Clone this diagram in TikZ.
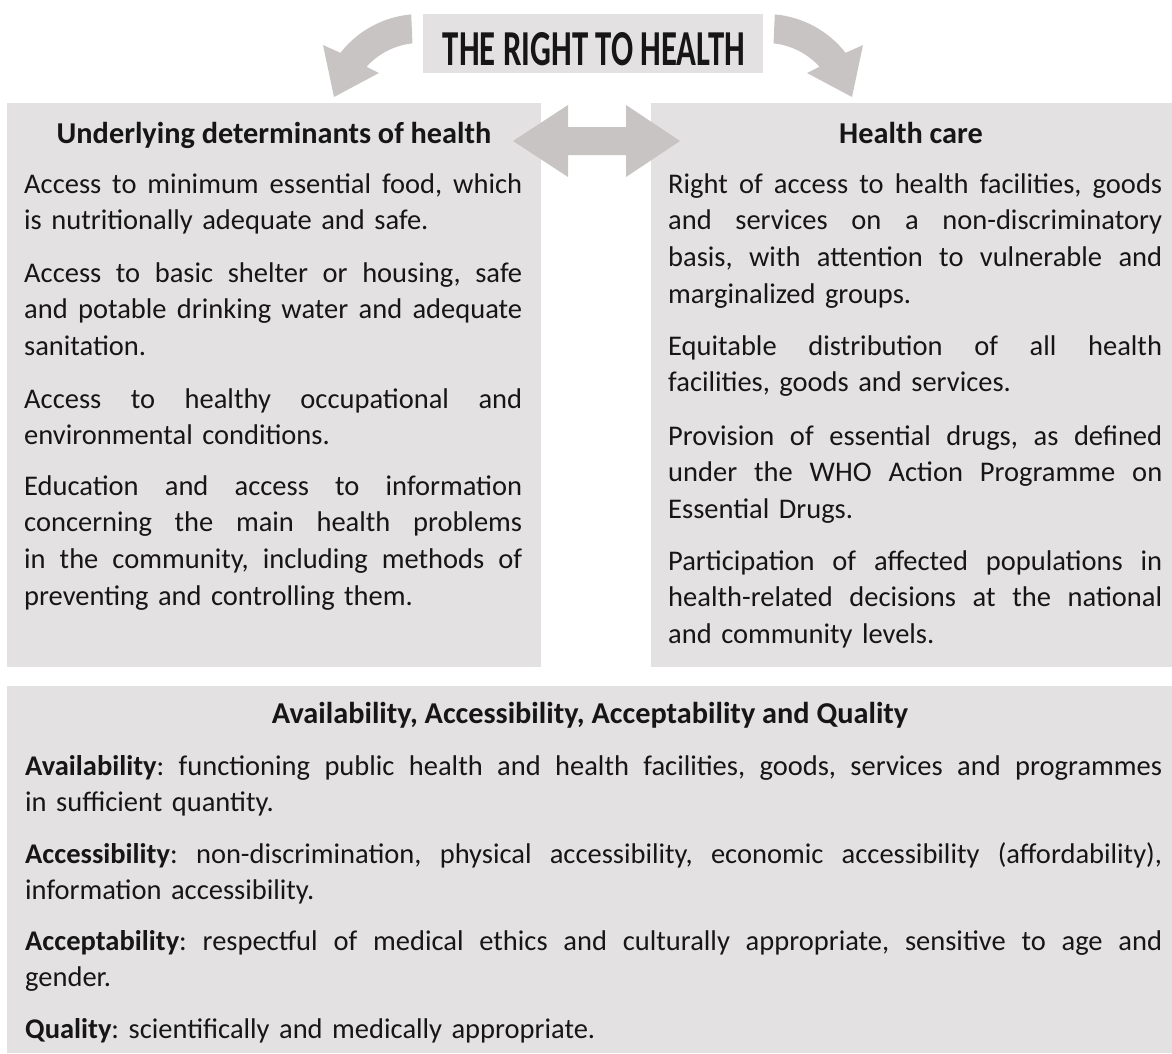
\documentclass[tikz,border=0pt]{standalone}
\usepackage{fontspec}
\setmainfont{Carlito}
\usepackage{graphicx}
\definecolor{boxgray}{RGB}{227,225,226}
\definecolor{arrgray}{RGB}{200,196,195}
\definecolor{txt}{RGB}{22,22,22}
\newcommand{\jline}[1]{\makebox[\linewidth][s]{\spaceskip=0pt\xspaceskip=0pt\frenchspacing #1}}
\frenchspacing
\begin{document}
\begin{tikzpicture}[x=1pt,y=1pt,
  panel/.style={fill=boxgray, draw=none, inner sep=0pt, outer sep=0pt, anchor=north west},
  para/.style={text width=#1pt, align=left, inner sep=0pt, font=\fontsize{28.5}{36.7}\selectfont\frenchspacing, text=txt, anchor=base west},
  head/.style={inner sep=0pt, font=\fontsize{30.3}{36.7}\selectfont\bfseries, text=txt, anchor=base},
  bigarrow/.style={fill=arrgray, draw=none}]
\useasboundingbox (0,0) rectangle (1172,-1053);
% panels
\node[panel, minimum width=340pt, minimum height=59pt] (titlebox) at (423,-14) {};
\node[panel, minimum width=534pt, minimum height=564pt] (leftbox) at (7,-103) {};
\node[panel, minimum width=521pt, minimum height=564pt] (rightbox) at (651,-103) {};
\node[panel, minimum width=1165pt, minimum height=367pt] (bottombox) at (7,-686) {};
% title
\node[inner sep=0pt, anchor=base, text=txt] (titletext) at (594,-65) {\resizebox{302pt}{33pt}{\bfseries THE RIGHT TO HEALTH}};
% curved arrows
\fill[bigarrow] (411.2,-14.4) arc[start angle=95, end angle=142, radius=101] -- (323,-45) -- (334,-97) -- (379,-73) -- (366.5,-66.8) arc[start angle=138, end angle=96, radius=72] -- cycle;
\begin{scope}[xshift=1186pt, xscale=-1]
\fill[bigarrow] (411.2,-14.4) arc[start angle=95, end angle=142, radius=101] -- (323,-45) -- (334,-97) -- (379,-73) -- (366.5,-66.8) arc[start angle=138, end angle=96, radius=72] -- cycle;
\end{scope}
% double arrow
\fill[bigarrow] (513,-141) -- (568,-105) -- (568,-127) -- (626,-127) -- (626,-105) -- (680,-141) -- (626,-177) -- (626,-155) -- (568,-155) -- (568,-177) -- cycle;
% left column
\node[head] (lhead) at (274,-143) {Underlying determinants of health};
\node[para=498] (l1) at (24,-193) {\jline{Access to minimum essential food, which}\\ is nutritionally adequate and safe.};
\node[para=498] (l2) at (24,-282) {\jline{Access to basic shelter or housing, safe}\\ \jline{and potable drinking water and adequate}\\ sanitation.};
\node[para=498] (l3) at (24,-408) {\jline{Access to healthy occupational and}\\ environmental conditions.};
\node[para=498] (l4) at (24,-495) {\jline{Education and access to information}\\ \jline{concerning the main health problems}\\ \jline{in the community, including methods of}\\ preventing and controlling them.};
% right column
\node[head] (rhead) at (911,-143) {Health care};
\node[para=494] (r1) at (668,-193) {\jline{Right of access to health facilities, goods}\\ \jline{and services on a non-discriminatory}\\ \jline{basis, with attention to vulnerable and}\\ marginalized groups.};
\node[para=494] (r2) at (668,-355) {\jline{Equitable distribution of all health}\\ facilities, goods and services.};
\node[para=494] (r3) at (668,-445) {\jline{Provision of essential drugs, as defined}\\ \jline{under the WHO Action Programme on}\\ Essential Drugs.};
\node[para=494] (r4) at (668,-570) {\jline{Participation of affected populations in}\\ \jline{health-related decisions at the national}\\ and community levels.};
% bottom
\node[head] (bhead) at (590,-723) {Availability, Accessibility, Acceptability and Quality};
\node[para=1137] (b1) at (25,-775) {\jline{\textbf{Availability}: functioning public health and health facilities, goods, services and programmes}\\ in sufficient quantity.};
\node[para=1137] (b2) at (25,-863) {\jline{\textbf{Accessibility}: non-discrimination, physical accessibility, economic accessibility (affordability),}\\ information accessibility.};
\node[para=1137] (b3) at (25,-950) {\jline{\textbf{Acceptability}: respectful of medical ethics and culturally appropriate, sensitive to age and}\\ gender.};
\node[para=1137] (b4) at (25,-1038) {\textbf{Quality}: scientifically and medically appropriate.};
\end{tikzpicture}
\end{document}
